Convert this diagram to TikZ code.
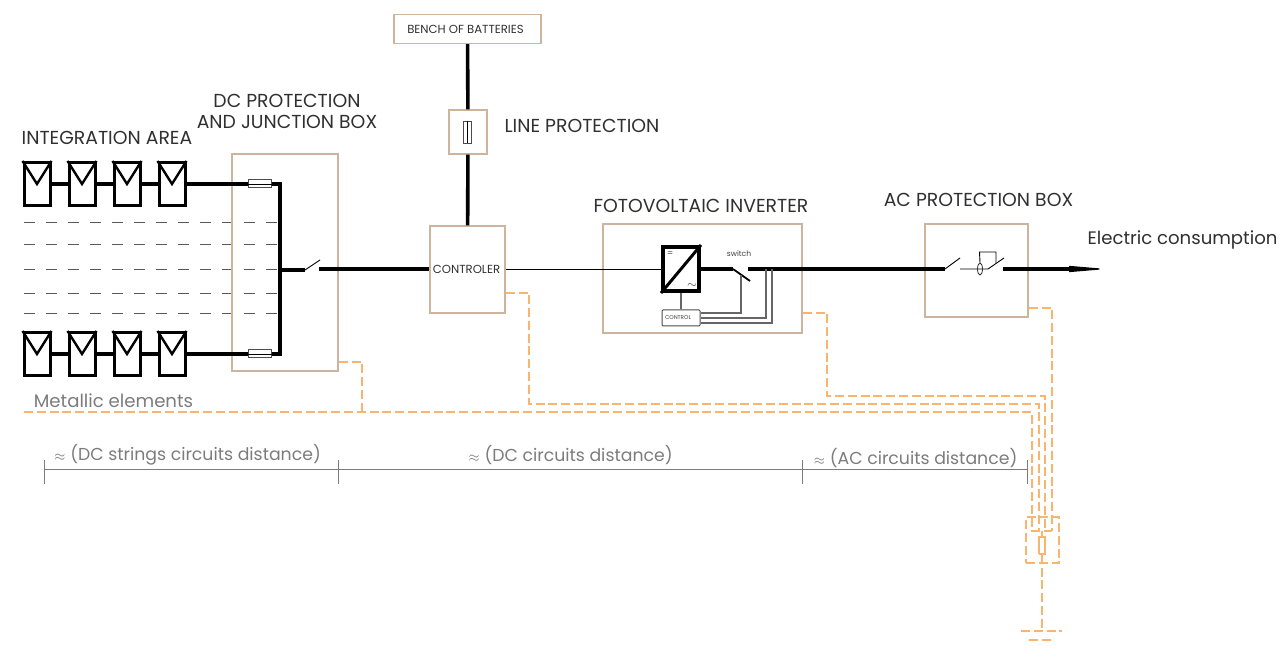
\documentclass[tikz,border=0pt]{standalone}
\usepackage{fontspec}
\setmainfont{Poppins}
\usetikzlibrary{arrows.meta,positioning,calc,shapes.geometric}
\definecolor{boxbrown}{HTML}{CDB49C}
\definecolor{earthorange}{HTML}{F9B46E}
\definecolor{labelgrey}{HTML}{303030}
\definecolor{softgrey}{HTML}{7C7C7C}
\newcommand{\nearly}{{\fontsize{6.5}{7}\selectfont$\approx$}}

\begin{document}
\begin{tikzpicture}[
  x=.5pt,y=-.5pt,
  pvbox/.style={draw=black,line width=1.5pt,minimum width=13pt,minimum height=21.5pt,inner sep=0pt},
  brownbox/.style={draw=boxbrown,line width=.7pt,inner sep=0pt},
  fusebox/.style={draw=black!70,line width=.5pt,fill=white,inner sep=0pt},
  bus/.style={line width=1.8pt},
  wire/.style={line width=1.6pt},
  thinwire/.style={line width=.45pt},
  stringdash/.style={draw=black!65,line width=.5pt,dash pattern=on 5.5pt off 5.5pt},
  ctrlwire/.style={draw=black!60,line width=.7pt},
  earth/.style={draw=earthorange,line width=.75pt,dash pattern=on 4.5pt off 1.9pt},
  dimline/.style={draw=softgrey,line width=.5pt},
  title/.style={font=\fontsize{9.4}{10.6}\selectfont,text=labelgrey,align=center,inner sep=0pt},
  lowtitle/.style={font=\fontsize{9.05}{10.6}\selectfont,text=labelgrey,inner sep=0pt},
  smalltext/.style={font=\fontsize{5.85}{7}\selectfont,text=labelgrey,inner sep=0pt},
  dimtext/.style={font=\fontsize{8.65}{10}\selectfont,text=softgrey,inner sep=0pt}]
\useasboundingbox (0,0) rectangle (1281,646);

% strings of the integration area
\foreach \n/\px in {1/37,2/82,3/127,4/172}{
  \node[pvbox] (top\n) at (\px,184) {};
  \node[pvbox] (bot\n) at (\px,354) {};
  \draw[line width=1.2pt] (top\n.north west) -- (top\n.center) -- (top\n.north east);
  \draw[line width=1.2pt] (bot\n.north west) -- (bot\n.center) -- (bot\n.north east);
}
\foreach \a/\b in {1/2,2/3,3/4}{
  \draw[wire] (top\a) -- (top\b);
  \draw[wire] (bot\a) -- (bot\b);
}
\foreach \y in {223,245,270,294,314}
  \draw[stringdash] (24,\y) -- (280,\y);

% boxes
\node[brownbox,minimum width=73.5pt,minimum height=14.5pt] (bench) at (467.5,29) {};
\node[smalltext] (benchtext) at (465.5,29) {BENCH OF BATTERIES};
\node[brownbox,minimum width=19pt,minimum height=22pt] (lineprot) at (468,132) {};
\node[draw=black!70,line width=.4pt,minimum width=4pt,minimum height=11pt,inner sep=0pt] (linefuse) at (467.5,132) {};
\node[brownbox,minimum width=53pt,minimum height=108.5pt] (dcbox) at (285,262.5) {};
\node[brownbox,minimum width=37.5pt,minimum height=43.5pt] (ctrl) at (467.5,269.5) {};
\node[smalltext] (ctrltext) at (466.5,269) {CONTROLER};
\node[brownbox,minimum width=99.5pt,minimum height=54.5pt] (invbox) at (702.5,278.5) {};
\node[brownbox,minimum width=51.5pt,minimum height=46.5pt] (acbox) at (976.5,270.5) {};
\draw[thinwire] (linefuse.north) -- (linefuse.south);

% titles
\node[title] (areatext) at (107,138) {INTEGRATION AREA};
\node[title] (dctext) at (287,111.5) {DC PROTECTION\\AND JUNCTION BOX};
\node[title] (linetext) at (582,126) {LINE PROTECTION};
\node[title] (invtext) at (701,206) {FOTOVOLTAIC INVERTER};
\node[title] (actext) at (978.5,200) {AC PROTECTION BOX};
\node[lowtitle] (loadtext) at (1182.5,240) {Electric consumption};
\node[lowtitle,text=softgrey] (metaltext) at (113.5,401) {Metallic elements};

% DC side
\coordinate (bustop) at (280,184);
\coordinate (busbot) at (280,354);
\coordinate (busmid) at (280,270);
\node[fusebox,minimum width=11.5pt,minimum height=4pt] (fusetop) at (259.5,184) {};
\node[fusebox,minimum width=11.5pt,minimum height=4pt] (fusebot) at (259.5,354) {};
\draw[wire] (top4) -- (fusetop);
\draw[wire] (bot4) -- (fusebot);
\draw[wire] (fusetop) -- (bustop) -- (busbot) -- (fusebot);
\draw[thinwire] (fusetop.west) -- (fusetop.east);
\draw[thinwire] (fusebot.west) -- (fusebot.east);
\coordinate (dcsw) at (305,270);
\coordinate (dcswopen) at (320,260);
\coordinate (dcswout) at (319,269);
\draw[bus] (busmid) -- (dcsw);
\draw[thinwire] (dcsw) -- (dcswopen);
\draw[bus] (dcswout) -- (ctrl.west |- dcswout);

% batteries
\draw[bus] (bench) -- (lineprot);
\draw[bus] (lineprot) -- (ctrl);

% inverter
\node[draw=black,line width=2pt,minimum width=18pt,minimum height=22pt,inner sep=0pt] (conv) at (681,269) {};
\draw[line width=1.5pt] (conv.south west) -- (conv.north east);
\node[font=\fontsize{4.5}{4.5}\selectfont,text=black!70,inner sep=0pt] (convdc) at ($(conv.north west)+(9,9)$) {=};
\node[font=\fontsize{4}{4}\selectfont,text=black!70,inner sep=0pt] (convac) at ($(conv.south east)+(-9,-7)$) {$\sim$};
\draw[thinwire] (ctrl.east |- conv.west) -- (conv.west);
\node[draw=black!70,line width=.5pt,fill=white,rounded corners=.5pt,minimum width=19pt,minimum height=8pt,inner sep=0pt] (control) at (681,318) {};
\node[font=\fontsize{2.8}{3}\selectfont,text=black!75,inner sep=0pt] (controltext) at (678,318) {CONTROL};
\draw[ctrlwire] (conv) -- (control);
\coordinate (invsw) at (733,269);
\coordinate (invswopen) at (750,281);
\coordinate (invswout) at (748,269);
\draw[bus] (conv.east) -- (invsw);
\draw[line width=.9pt] (invsw) -- (invswopen);
\node[font=\fontsize{3.8}{4}\selectfont,text=black!75,inner sep=0pt] (switchtext) at (739,254) {switch};
\coordinate (acsw) at (945,269);
\draw[bus] (invswout) -- (acsw);
\draw[ctrlwire] (control.east |- 0,313) -- (741,313) -- (741,275);
\draw[ctrlwire] (control.east |- 0,318) -- (766,318) -- (766,269);
\draw[ctrlwire] (control.east |- 0,323) -- (772,323) -- (772,269);

% AC protection
\coordinate (acswopen) at (960,258);
\coordinate (rcdin) at (960,269);
\coordinate (rcdsw) at (988,269);
\coordinate (rcdopen) at (1004,258);
\coordinate (acout) at (1003,269);
\coordinate (loadend) at (1107,269);
\draw[thinwire] (acsw) -- (acswopen);
\draw[thinwire] (rcdin) -- (rcdsw) -- (rcdopen);
\node[draw=black!80,line width=.4pt,ellipse,minimum width=2.5pt,minimum height=6pt,inner sep=0pt] (rcdcoil) at (980,269) {};
\draw[thinwire] (rcdcoil.north) -- (979.5,252) -- (996,252) -- (996,263);
\draw[bus] (acout) -- (1070,269);
\draw[line width=.6pt,-{Triangle[length=19pt,width=3pt]}] (1060,269) -- (loadend);

% earthing
\node[earth,minimum width=16.5pt,minimum height=23pt,inner sep=0pt] (earthbox) at (1042.5,540) {};
\node[earth,dash pattern=on 9pt off 0pt,minimum width=3pt,minimum height=8.5pt,inner sep=0pt] (earthres) at (1042,545.5) {};
\coordinate (groundtop) at (1042,631);
\draw[earth] (dcbox.east |- 0,362) -- (362,362) -- (362,412);
\draw[earth] (24,412) -- (1032,412) -- (1032,531) -- (1052,531);
\draw[earth] (ctrl.east |- 0,293) -- (529,293) -- (529,404) -- (1039,404) -- (1039,531);
\draw[earth] (invbox.east |- 0,313) -- (827,313) -- (827,396) -- (1045,396) -- (1045,531);
\draw[earth] (acbox.east |- 0,308) -- (1052,308) -- (1052,531);
\draw[earth] (1042,531) -- (earthres);
\draw[earth] (earthres) -- (groundtop);
\draw[earth] (1021,631) -- (1062,631);
\draw[earth] (1029,640) -- (1052,640);

% distances
\coordinate (dima) at (44,470);
\coordinate (dimb) at (338,470);
\coordinate (dimc) at (802,470);
\coordinate (dimd) at (1027,470);
\draw[dimline] (dima) -- (dimd);
\foreach \p in {dima,dimb,dimc,dimd}
  \draw[dimline] ($(\p)+(0,-10)$) -- ($(\p)+(0,14)$);
\node[dimtext] (disttexta) at (187.5,455) {\nearly{} (DC strings circuits distance)};
\node[dimtext] (disttextb) at (570.5,455) {\nearly{} (DC circuits distance)};
\node[dimtext] (disttextc) at (915.5,458) {\nearly{} (AC circuits distance)};
\end{tikzpicture}
\end{document}
